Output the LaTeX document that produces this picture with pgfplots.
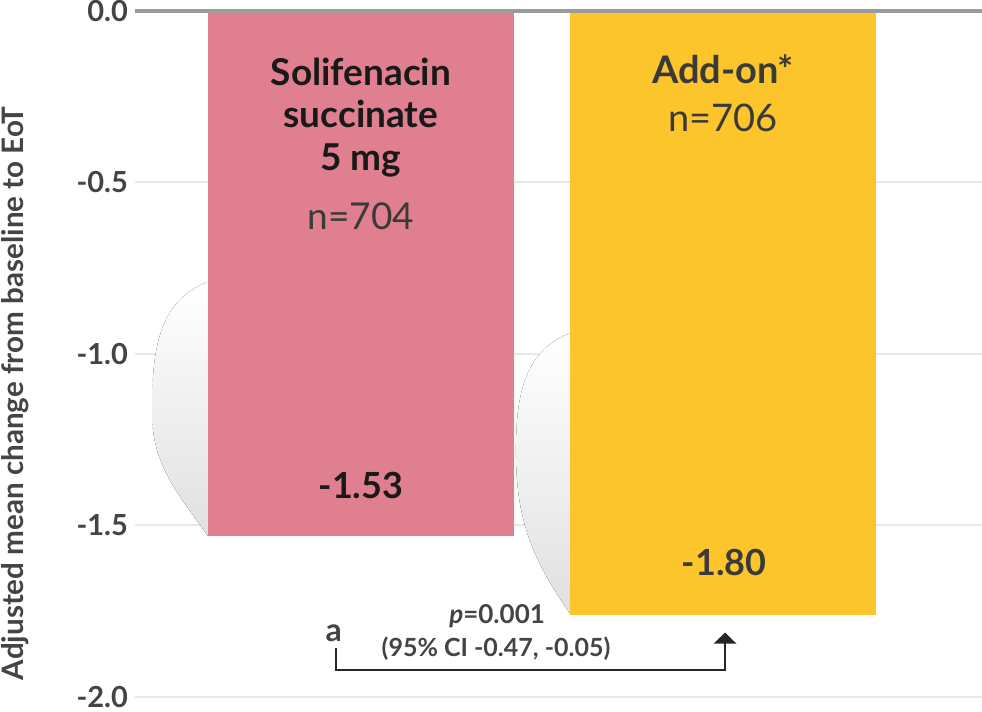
\documentclass[border=0pt]{standalone}
\usepackage{pgfplots}
\pgfplotsset{compat=1.18}
\usepackage{fontspec}
\setmainfont{Lato}
\usetikzlibrary{arrows.meta}
\definecolor{pinkbar}{RGB}{224,127,143}
\definecolor{yellowbar}{RGB}{253,197,44}
\definecolor{txt}{RGB}{58,58,58}
\definecolor{tickc}{RGB}{68,68,68}
\definecolor{gridc}{RGB}{232,232,232}
\definecolor{zeroc}{RGB}{155,155,155}
\begin{document}
\begin{tikzpicture}
\begin{axis}[
  at={(0pt,0pt)}, anchor=south west,
  scale only axis, width=423.5pt, height=343pt,
  xmin=-0.624, xmax=1.715, ymin=-2, ymax=0,
  enlargelimits=false, clip=false,
  axis line style={draw=none},
  xtick=\empty,
  ytick={-2,-1.5,-1,-0.5,0},
  yticklabels={-2.0,-1.5,-1.0,-0.5,0.0},
  major tick length=0pt,
  yticklabel style={font=\fontsize{14.5}{14.5}\selectfont\bfseries, text=tickc},
  ymajorgrids, grid style={gridc, line width=1pt},
  ybar, bar width=0.845,
]
% soft shadows
\fill[top color=white, bottom color=black!12, draw=none]
  (axis cs:-0.4225,-0.79) to[out=200,in=90] (axis cs:-0.577,-1.17)
  to[out=-90,in=125] (axis cs:-0.4225,-1.531) -- cycle;
\fill[top color=white, bottom color=black!12, draw=none]
  (axis cs:0.5775,-0.94) to[out=200,in=90] (axis cs:0.428,-1.285)
  to[out=-90,in=125] (axis cs:0.5775,-1.757) -- cycle;

\addplot[fill=pinkbar, draw=none, bar shift=0pt] coordinates {(0,-1.53)};
\addplot[fill=yellowbar, draw=none, bar shift=0pt] coordinates {(1,-1.76)};

\draw[zeroc, line width=2pt] (axis cs:-0.624,0) -- (axis cs:1.715,0);

% bar texts
\node[font=\fontsize{18.5}{18.5}\selectfont\bfseries, text=black!90] at (axis cs:0,-0.179) {Solifenacin};
\node[font=\fontsize{18.5}{18.5}\selectfont\bfseries, text=black!90] at (axis cs:0,-0.301) {succinate};
\node[font=\fontsize{18.5}{18.5}\selectfont\bfseries, text=black!90] at (axis cs:0,-0.437) {5 mg};
\node[font=\fontsize{18.5}{18.5}\selectfont, text=txt] at (axis cs:0,-0.599) {n=704};
\node[font=\fontsize{19}{19}\selectfont\bfseries, text=txt] at (axis cs:1.0,-0.171) {Add-on*};
\node[font=\fontsize{19}{19}\selectfont, text=txt] at (axis cs:1.0,-0.311) {n=706};
\node[font=\fontsize{18}{18}\selectfont\bfseries, text=black!90] at (axis cs:0,-1.384) {-1.53};
\node[font=\fontsize{18}{18}\selectfont\bfseries, text=txt] at (axis cs:1.003,-1.609) {-1.80};

% annotation
\node[font=\fontsize{16}{16}\selectfont\bfseries, text=tickc] at (axis cs:-0.075,-1.815) {a};
\node[font=\fontsize{13}{13}\selectfont\bfseries, text=tickc] at (axis cs:0.376,-1.763) {\textit{p}=0.001};
\node[font=\fontsize{12.5}{12.5}\selectfont\bfseries, text=tickc] at (axis cs:0.373,-1.858) {(95\% CI -0.47, -0.05)};
\draw[black!85, line width=1pt, -{Triangle[width=11pt,length=5.5pt]}]
  (axis cs:-0.069,-1.858) -- (axis cs:-0.069,-1.922) -- (axis cs:1.0055,-1.922) -- (axis cs:1.0055,-1.812);

% y label
\node[shift={(-60pt,0pt)}, rotate=90, font=\fontsize{14.8}{14.8}\selectfont\bfseries, text=tickc] at (axis cs:-0.624,-1.115) {Adjusted mean change from baseline to EoT};
\end{axis}
\pgfresetboundingbox
\path (-67.5pt,-7.5pt) rectangle (423.5pt,348.5pt);
\end{tikzpicture}
\end{document}
